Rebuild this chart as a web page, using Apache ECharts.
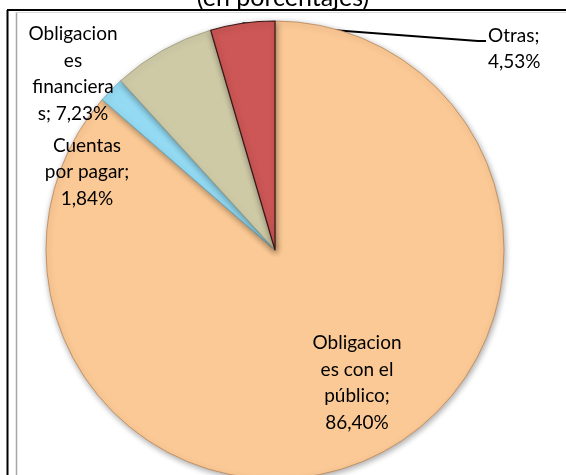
<!DOCTYPE html>
<html>
<head>
<meta charset="utf-8">
<script src="https://cdn.jsdelivr.net/npm/echarts@6/dist/echarts.min.js"></script>
<style>
  html, body { margin: 0; padding: 0; background: #fff; }
  #chart { width: 566px; height: 475px; }
</style>
</head>
<body>
<div id="chart"></div>
<script>
// datos (en porcentajes)
const categories = ['Obligaciones con el público', 'Cuentas por pagar', 'Obligaciones financieras', 'Otras']
const values = [86.40, 1.84, 7.23, 4.53]
// textos de etiqueta tal como aparecen (con cortes de linea)
const labelTexts = [
  'Obligacion\nes con el\npúblico;\n86,40%',
  'Cuentas\npor pagar;\n1,84%',
  'Obligacion\nes\nfinanciera\ns; 7,23%',
  'Otras;\n4,53%'
]
const colors = ['#FBC995', '#93DAF2', '#CFCAA6', '#CD5756']
const borders = ['#B88558', '#5FA9C4', '#9E9874', '#3A1616']

var myChart = echarts.init(document.getElementById('chart'))

// posiciones de etiquetas
const labelPos = [
  { x: 357, y: 383, align: 'center' },
  { x: 87, y: 172, align: 'center' },
  { x: 73, y: 74, align: 'center' },
  { x: 488, y: 49, align: 'left' }
]

var option = {
  title: {
    text: '(en porcentajes)',
    left: 'center',
    top: -20,
    textStyle: {
      fontFamily: 'Lato',
      fontSize: 25,
      fontWeight: 'normal',
      color: '#000'
    }
  },
  graphic: [
    // marco
    { type: 'line', shape: { x1: 7.5, y1: 10, x2: 7.5, y2: 475 }, style: { stroke: '#000', lineWidth: 2 } },
    { type: 'line', shape: { x1: 7, y1: 10, x2: 566, y2: 10 }, style: { stroke: '#000', lineWidth: 2 } },
    { type: 'line', shape: { x1: 16.5, y1: 12, x2: 16.5, y2: 475 }, style: { stroke: '#a6a6a6', lineWidth: 1.5 } },
    { type: 'line', shape: { x1: 16, y1: 12.5, x2: 566, y2: 12.5 }, style: { stroke: '#d9d9d9', lineWidth: 1 } }
  ],
  series: [
    {
      type: 'pie',
      center: [275, 250],
      radius: 229,
      startAngle: 90,
      clockwise: true,
      avoidLabelOverlap: false,
      animation: false,
      data: categories.map((name, i) => ({
        name: name,
        value: values[i],
        itemStyle: {
          color: colors[i],
          borderColor: borders[i],
          borderWidth: i === 3 ? 1.2 : 0.8,
          shadowBlur: 6,
          shadowOffsetX: 1,
          shadowOffsetY: 2,
          shadowColor: 'rgba(0,0,0,0.35)'
        },
        labelLine: { show: i === 3 }
      })),
      label: {
        show: true,
        position: 'outside',
        formatter: p => labelTexts[p.dataIndex],
        fontFamily: 'Lato',
        fontSize: 19,
        lineHeight: 26.5,
        color: '#000'
      },
      labelLine: {
        lineStyle: { color: '#000', width: 2 }
      },
      labelLayout: function (params) {
        const p = labelPos[params.dataIndex]
        const res = { x: p.x, y: p.y, align: p.align, verticalAlign: 'middle' }
        if (params.labelLinePoints) {
          res.labelLinePoints = [params.labelLinePoints[0], [478, 41], [486, 41]]
        }
        return res
      }
    }
  ]
}

myChart.setOption(option)
</script>
</body>
</html>
